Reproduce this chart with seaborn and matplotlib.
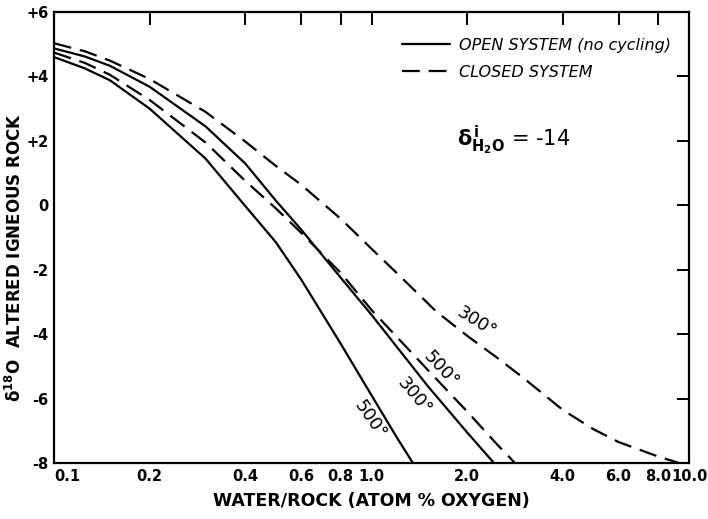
import numpy as np
import pandas as pd
import matplotlib
matplotlib.use("Agg")
import matplotlib.pyplot as plt
import seaborn as sns
from matplotlib.lines import Line2D
from matplotlib.ticker import FixedLocator, NullLocator

# ==========================================
# Values (W/R in atom % oxygen, delta 18O in permil)
# ==========================================
wr_open_500 = [0.1, 0.125, 0.15, 0.2, 0.3, 0.4, 0.5, 0.6, 0.8, 1.0, 1.2, 1.35]
d18o_open_500 = [4.60, 4.25, 3.88, 3.00, 1.45, -0.02, -1.15, -2.30, -4.30, -5.90, -7.20, -8.0]

wr_open_300 = [0.1, 0.125, 0.15, 0.2, 0.3, 0.4, 0.5, 0.6, 0.8, 1.0, 1.5, 2.0, 2.43]
d18o_open_300 = [4.87, 4.62, 4.33, 3.68, 2.45, 1.30, 0.14, -0.75, -2.25, -3.40, -5.60, -7.05, -8.0]

wr_closed_500 = [0.1, 0.125, 0.15, 0.2, 0.3, 0.4, 0.5, 0.6, 0.8, 1.0, 1.5, 2.0, 2.5, 2.83]
d18o_closed_500 = [4.74, 4.42, 4.05, 3.27, 1.95, 0.76, -0.10, -0.85, -2.10, -3.25, -5.10, -6.40, -7.45, -8.0]

wr_closed_300 = [0.1, 0.125, 0.15, 0.2, 0.3, 0.4, 0.5, 0.6, 0.8, 1.0, 1.2, 1.6, 2.0, 2.5, 3.0,
                 4.0, 5.0, 6.0, 8.0, 9.3]
d18o_closed_300 = [5.03, 4.78, 4.49, 3.92, 2.90, 1.98, 1.22, 0.64, -0.42, -1.35, -2.10, -3.30, -4.05,
                   -4.75, -5.35, -6.35, -6.95, -7.35, -7.80, -8.0]

x_ticks = [0.1, 0.2, 0.4, 0.6, 0.8, 1.0, 2.0, 4.0, 6.0, 8.0, 10.0]
x_tick_labels = ["0.1", "0.2", "0.4", "0.6", "0.8", "1.0", "2.0", "4.0", "6.0", "8.0", "10.0"]
y_ticks = [6, 4, 2, 0, -2, -4, -6, -8]
y_tick_labels = ["+6", "+4", "+2", "0", "-2", "-4", "-6", "-8"]

OPEN = "OPEN SYSTEM (no cycling)"
CLOSED = "CLOSED SYSTEM"

curves = [
    (OPEN, "500", wr_open_500, d18o_open_500),
    (OPEN, "300", wr_open_300, d18o_open_300),
    (CLOSED, "500", wr_closed_500, d18o_closed_500),
    (CLOSED, "300", wr_closed_300, d18o_closed_300),
]
rows = []
for system, temp, xs, ys in curves:
    for xv, yv in zip(xs, ys):
        rows.append({"wr": xv, "d18o": yv, "system": system, "curve": system + temp})
df = pd.DataFrame(rows)

# ==========================================
# Plot
# ==========================================
sns.set_style("white")
plt.rcParams["font.family"] = ["DejaVu Sans"]
plt.rcParams["text.color"] = "black"
plt.rcParams["axes.labelcolor"] = "black"
plt.rcParams["xtick.color"] = "black"
plt.rcParams["ytick.color"] = "black"

fig = plt.figure(figsize=(7.08, 5.19), dpi=100)
ax = fig.add_axes([0.0763, 0.1079, 0.8969, 0.869])

sns.lineplot(data=df, x="wr", y="d18o", style="system", units="curve", estimator=None,
             sort=False, color="black", linewidth=1.6,
             dashes={OPEN: "", CLOSED: (8, 4)}, legend=False, ax=ax)

ax.set_xscale("log")
ax.set_xlim(0.1, 10)
ax.set_ylim(-8, 6)

ax.xaxis.set_major_locator(FixedLocator(x_ticks))
ax.xaxis.set_minor_locator(NullLocator())
ax.set_xticklabels(x_tick_labels)
ax.set_yticks(y_ticks)
ax.set_yticklabels(y_tick_labels)

ax.tick_params(axis="both", which="major", direction="in", length=9, width=1.4,
               top=True, right=True, labelsize=10.5, pad=4)
for lab in ax.get_xticklabels() + ax.get_yticklabels():
    lab.set_fontweight("bold")
ax.get_xticklabels()[0].set_horizontalalignment("left")

for sp in ax.spines.values():
    sp.set_linewidth(1.6)
    sp.set_color("black")

ax.set_xlabel("WATER/ROCK (ATOM % OXYGEN)", fontsize=12.5, fontweight="bold", labelpad=6)
ax.set_ylabel(r"$\mathbf{\delta^{18}}$O  ALTERED IGNEOUS ROCK", fontsize=12,
              fontweight="bold")
ax.yaxis.set_label_coords(-0.045, 0.455)

# curve labels
label_kw = dict(fontsize=13, ha="center", va="center", color="black")
ax.text(2.15, -3.64, "300°", rotation=-32, **label_kw)
ax.text(1.66, -5.10, "500°", rotation=-47, **label_kw)
ax.text(1.36, -5.94, "300°", rotation=-50, **label_kw)
ax.text(0.99, -6.65, "500°", rotation=-55, **label_kw)

# legend
handles = [Line2D([], [], color="black", linewidth=1.6, linestyle="-"),
           Line2D([], [], color="black", linewidth=1.6, dashes=(8, 4))]
leg = ax.legend(handles, [OPEN, CLOSED], loc="upper left", bbox_to_anchor=(0.525, 0.975),
                frameon=False, handlelength=3.0, handletextpad=0.6, fontsize=11.5,
                labelspacing=0.75)
for t in leg.get_texts():
    t.set_fontstyle("italic")

ax.text(0.635, 0.715, r"$\mathbf{\delta^{\,i}_{H_2O}}$ = -14",
        transform=ax.transAxes, fontsize=15, ha="left", va="center")

plt.savefig("out.png", dpi=100)
plt.close()
